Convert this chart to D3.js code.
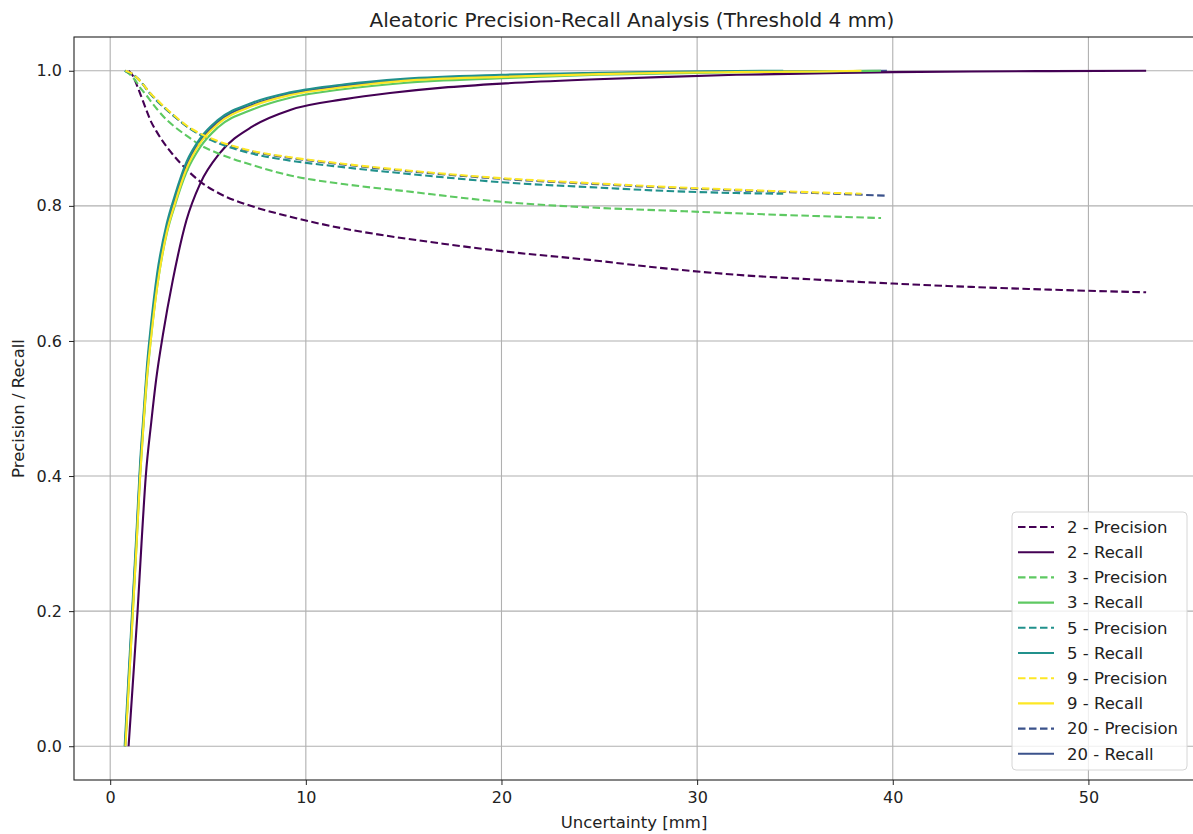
<!DOCTYPE html>
<html>
<head>
<meta charset="utf-8">
<script src="https://cdn.jsdelivr.net/npm/d3@7"></script>
<style>
  body { margin: 0; background: #fff; }
  text { font-family: "DejaVu Sans", sans-serif; fill: #222; }
</style>
</head>
<body>
<div id="chart"></div>
<script>
// values
var groups = ["2", "3", "5", "9", "20"];
var groupColors = ["#440154", "#5ec962", "#21918c", "#fde725", "#3b528b"];

var x2 = [0.94, 1.15, 1.4, 1.6, 1.82, 2.1, 2.35, 2.7, 3.2, 3.9, 4.6, 5.6, 7.3, 9.2, 12, 14.3, 17, 20, 24.5, 28.5, 32, 36, 40, 44, 48, 52.95];
var prec2 = [1.0, 0.993, 0.976, 0.961, 0.944, 0.924, 0.911, 0.895, 0.876, 0.854, 0.836, 0.818, 0.799, 0.784, 0.766, 0.755, 0.744, 0.733, 0.72, 0.707, 0.698, 0.691, 0.685, 0.68, 0.676, 0.672];
var rec2 = [0.0, 0.09, 0.2, 0.3, 0.4, 0.48, 0.543, 0.61, 0.69, 0.779, 0.833, 0.878, 0.918, 0.942, 0.958, 0.967, 0.975, 0.981, 0.987, 0.991, 0.994, 0.996, 0.998, 0.999, 0.9995, 1.0];

var x3 = [0.76, 0.95, 1.16, 1.35, 1.53, 1.7, 1.87, 2.07, 2.4, 2.9, 3.3, 3.9, 4.6, 5.5, 7.3, 9.2, 12, 15, 20, 25, 28.5, 32, 36, 39.4];
var prec3 = [1.0, 0.996, 0.99, 0.983, 0.975, 0.969, 0.963, 0.955, 0.943, 0.927, 0.917, 0.904, 0.89, 0.878, 0.86, 0.845, 0.832, 0.822, 0.806, 0.797, 0.793, 0.789, 0.785, 0.782];
var rec3 = [0.0, 0.09, 0.2, 0.3, 0.4, 0.475, 0.54, 0.6, 0.68, 0.76, 0.8, 0.85, 0.887, 0.916, 0.943, 0.96, 0.973, 0.982, 0.989, 0.994, 0.996, 0.998, 0.999, 1.0];

var x5 = [0.74, 0.95, 1.16, 1.35, 1.53, 1.7, 1.87, 2.07, 2.4, 2.9, 3.3, 3.9, 4.6, 5.5, 7.3, 9.2, 12, 15, 20, 25, 28.5, 32, 34.4];
var prec5 = [1.0, 0.997, 0.995, 0.99, 0.985, 0.979, 0.972, 0.965, 0.955, 0.942, 0.932, 0.918, 0.905, 0.893, 0.877, 0.867, 0.857, 0.848, 0.835, 0.827, 0.822, 0.819, 0.818];
var rec5 = [0.0, 0.11, 0.22, 0.32, 0.42, 0.49, 0.56, 0.62, 0.7, 0.775, 0.815, 0.865, 0.9, 0.927, 0.953, 0.968, 0.98, 0.988, 0.994, 0.997, 0.9985, 0.9995, 1.0];

var x9 = [0.78, 0.95, 1.16, 1.35, 1.53, 1.7, 1.87, 2.07, 2.4, 2.9, 3.3, 3.9, 4.6, 5.5, 7.3, 9.2, 12, 15, 20, 25, 28.5, 32, 36, 38.4];
var prec9 = [1.0, 0.998, 0.995, 0.99, 0.985, 0.979, 0.973, 0.966, 0.957, 0.943, 0.933, 0.919, 0.907, 0.896, 0.881, 0.872, 0.862, 0.853, 0.841, 0.833, 0.828, 0.824, 0.82, 0.818];
var rec9 = [0.0, 0.09, 0.2, 0.3, 0.4, 0.475, 0.543, 0.6, 0.68, 0.762, 0.803, 0.855, 0.893, 0.921, 0.948, 0.964, 0.976, 0.985, 0.991, 0.995, 0.997, 0.998, 0.999, 1.0];

var x20 = [0.77, 0.95, 1.16, 1.35, 1.53, 1.7, 1.87, 2.07, 2.4, 2.9, 3.3, 3.9, 4.6, 5.5, 7.3, 9.2, 12, 15, 20, 25, 28.5, 32, 36, 39.7];
var prec20 = [1.0, 0.998, 0.995, 0.99, 0.985, 0.979, 0.973, 0.966, 0.956, 0.942, 0.932, 0.918, 0.906, 0.895, 0.88, 0.871, 0.861, 0.852, 0.84, 0.832, 0.827, 0.823, 0.819, 0.815];
var rec20 = [0.0, 0.1, 0.21, 0.31, 0.41, 0.48, 0.55, 0.61, 0.69, 0.768, 0.808, 0.86, 0.896, 0.924, 0.95, 0.966, 0.978, 0.986, 0.992, 0.996, 0.998, 0.999, 0.9995, 1.0];

var xTicks = [0, 10, 20, 30, 40, 50];
var yTicks = [0.0, 0.2, 0.4, 0.6, 0.8, 1.0];

var seriesX = [x2, x3, x5, x9, x20];
var seriesPrec = [prec2, prec3, prec5, prec9, prec20];
var seriesRec = [rec2, rec3, rec5, rec9, rec20];

var width = 1193, height = 834;
var plotLeft = 74, plotTop = 37, plotRight = 1197, plotBottom = 780;

var svg = d3.select("#chart").append("svg")
    .attr("width", width)
    .attr("height", height);

var x = d3.scaleLinear().domain([-1.85, 55.55]).range([plotLeft, plotRight]);
var y = d3.scaleLinear().domain([-0.05, 1.05]).range([plotBottom, plotTop]);

// grid
svg.append("g").selectAll("line")
    .data(xTicks)
    .enter().append("line")
    .attr("x1", function(d) { return x(d); })
    .attr("x2", function(d) { return x(d); })
    .attr("y1", plotTop).attr("y2", plotBottom)
    .attr("stroke", "#b0b0b0").attr("stroke-width", 1.1);

svg.append("g").selectAll("line")
    .data(yTicks)
    .enter().append("line")
    .attr("y1", function(d) { return y(d); })
    .attr("y2", function(d) { return y(d); })
    .attr("x1", plotLeft).attr("x2", plotRight)
    .attr("stroke", "#b0b0b0").attr("stroke-width", 1.1);

// build series, legend order: precision then recall for each group
var series = [];
groups.forEach(function(g, i) {
  var pts = seriesX[i];
  series.push({ label: g + " - Precision", color: groupColors[i], dashed: true,
    values: pts.map(function(v, j) { return [v, seriesPrec[i][j]]; }) });
  series.push({ label: g + " - Recall", color: groupColors[i], dashed: false,
    values: pts.map(function(v, j) { return [v, seriesRec[i][j]]; }) });
});

var line = d3.line()
    .x(function(d) { return x(d[0]); })
    .y(function(d) { return y(d[1]); })
    .curve(d3.curveMonotoneX);

// 20 drawn first so it sits under the others, as in the picture
var drawOrder = series.slice(8).concat(series.slice(0, 8));

svg.append("g")
    .selectAll("path")
    .data(drawOrder)
    .enter().append("path")
    .attr("d", function(d) { return line(d.values); })
    .attr("fill", "none")
    .attr("stroke", function(d) { return d.color; })
    .attr("stroke-width", 2.1)
    .attr("stroke-dasharray", function(d) { return d.dashed ? "7.5,3.5" : null; });

// axes
var xAxis = svg.append("g")
    .attr("transform", "translate(0," + plotBottom + ")")
    .call(d3.axisBottom(x).tickValues(xTicks).tickSize(5).tickPadding(7).tickFormat(d3.format("d")));
var yAxis = svg.append("g")
    .attr("transform", "translate(" + plotLeft + ",0)")
    .call(d3.axisLeft(y).tickValues(yTicks).tickSize(5).tickPadding(7).tickFormat(d3.format(".1f")));

[xAxis, yAxis].forEach(function(a) {
  a.select(".domain").remove();
  a.selectAll("text").style("font-size", "16px").attr("fill", "#222");
  a.selectAll(".tick line").attr("stroke", "#222").attr("stroke-width", 1);
});

// spines
svg.append("rect")
    .attr("x", plotLeft).attr("y", plotTop)
    .attr("width", plotRight - plotLeft).attr("height", plotBottom - plotTop)
    .attr("fill", "none").attr("stroke", "#222").attr("stroke-width", 1.1);

// labels
svg.append("text")
    .attr("x", 632).attr("y", 27)
    .attr("text-anchor", "middle")
    .style("font-size", "20px")
    .text("Aleatoric Precision-Recall Analysis (Threshold 4 mm)");

svg.append("text")
    .attr("x", 634).attr("y", 828)
    .attr("text-anchor", "middle")
    .style("font-size", "16.5px")
    .text("Uncertainty [mm]");

svg.append("text")
    .attr("transform", "translate(24," + (plotTop + plotBottom) / 2 + ") rotate(-90)")
    .attr("text-anchor", "middle")
    .style("font-size", "16.5px")
    .text("Precision / Recall");

// legend
var legend = svg.append("g").attr("transform", "translate(1012,512)");
legend.append("rect")
    .attr("width", 175).attr("height", 258)
    .attr("rx", 4)
    .attr("fill", "#fff").attr("fill-opacity", 0.8)
    .attr("stroke", "#d6d6d6");

var item = legend.selectAll(".item")
    .data(series)
    .enter().append("g")
    .attr("class", "item")
    .attr("transform", function(d, i) { return "translate(0," + (15 + i * 25.2) + ")"; });

item.append("line")
    .attr("x1", 6).attr("x2", 42)
    .attr("stroke", function(d) { return d.color; })
    .attr("stroke-width", 2.1)
    .attr("stroke-dasharray", function(d) { return d.dashed ? "7.5,3.5" : null; });

item.append("text")
    .attr("x", 55).attr("dy", "0.35em")
    .style("font-size", "16.5px")
    .text(function(d) { return d.label; });
</script>
</body>
</html>
